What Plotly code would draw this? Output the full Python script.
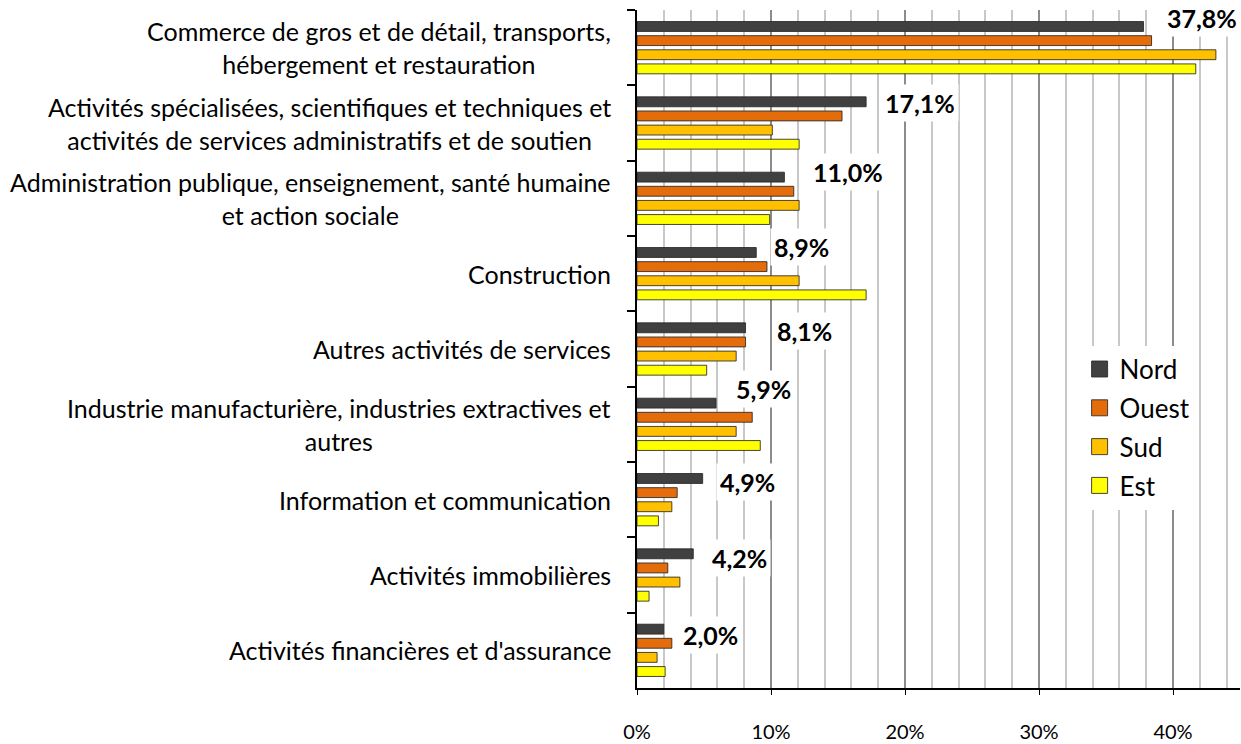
import plotly.graph_objects as go

categories = [
    "Commerce de gros et de détail, transports,<br>hébergement et restauration",
    "Activités spécialisées, scientifiques et techniques et<br>activités de services administratifs et de soutien",
    "Administration publique, enseignement, santé humaine<br>et action sociale",
    "Construction",
    "Autres activités de services",
    "Industrie manufacturière, industries extractives et<br>autres",
    "Information et communication",
    "Activités immobilières",
    "Activités financières et d'assurance",
]
nord = [37.8, 17.1, 11.0, 8.9, 8.1, 5.9, 4.9, 4.2, 2.0]
ouest = [38.4, 15.3, 11.7, 9.7, 8.1, 8.6, 3.0, 2.3, 2.6]
sud = [43.2, 10.1, 12.1, 12.1, 7.4, 7.4, 2.6, 3.2, 1.5]
est = [41.7, 12.1, 9.9, 17.1, 5.2, 9.2, 1.6, 0.9, 2.1]
x_ticks = [0, 10, 20, 30, 40]

series = [("Nord", nord, "#404040"), ("Ouest", ouest, "#E46C0A"),
          ("Sud", sud, "#FFC000"), ("Est", est, "#FFFF00")]

# label placement tweaks (pixels), style only
label_dx = [19, 15, 25, 14, 27, 16, 13, 15, 15]
label_dy = [30, 20, 26, 27, 18, 35, 18, 17, 15]

FONT = "Lato, 'Open Sans', sans-serif"
EDGE = "rgba(40,40,40,0.85)"

fig = go.Figure()
for name, vals, col in series:
    fig.add_trace(go.Bar(
        y=categories, x=vals, name=name, orientation="h",
        marker=dict(color=col, line=dict(color=EDGE, width=1)),
        hoverinfo="x+name", showlegend=False, legendgroup=name,
    ))
for name, vals, col in series:
    fig.add_trace(go.Scatter(
        x=[None], y=[None], mode="markers", name=name, legendgroup=name,
        marker=dict(symbol="square", size=16, color=col, line=dict(color=EDGE, width=1)),
        showlegend=True,
    ))

annotations = []
for i, cat in enumerate(categories):
    annotations.append(dict(
        x=0, xref="paper", y=cat, yref="y", xanchor="right", yanchor="middle",
        xshift=-24, text=cat, showarrow=False, align="center",
        font=dict(family=FONT, size=25, color="#000000"),
    ))
    annotations.append(dict(
        x=nord[i], xref="x", y=cat, yref="y", xanchor="left", yanchor="middle",
        xshift=label_dx[i], yshift=label_dy[i],
        text="<b>" + f"{nord[i]:.1f}".replace(".", ",") + "%</b>",
        showarrow=False, bgcolor="#FFFFFF", borderpad=3,
        font=dict(family=FONT, size=25, color="#000000"),
    ))

fig.update_layout(
    width=1241, height=744,
    margin=dict(l=637, r=1, t=10, b=48),
    paper_bgcolor="#FFFFFF", plot_bgcolor="#FFFFFF",
    barmode="group", bargap=0.25, bargroupgap=0.3,
    font=dict(family=FONT, color="#000000"),
    annotations=annotations,
    legend=dict(
        x=0.734, y=0.505, xanchor="left", yanchor="top",
        bgcolor="#FFFFFF", font=dict(family=FONT, size=26, color="#000000"),
        traceorder="grouped", entrywidth=110, tracegroupgap=2, itemwidth=30,
    ),
    showlegend=True,
)
fig.update_yaxes(
    type="category", autorange="reversed", showticklabels=False,
    ticks="outside", tickson="boundaries", ticklen=8, tickcolor="#000000", tickwidth=2,
    showline=True, linecolor="#000000", linewidth=2, showgrid=False,
)
fig.update_xaxes(
    range=[0, 45], tickvals=x_ticks, ticktext=[f"{v}%" for v in x_ticks],
    ticks="outside", ticklen=5, tickcolor="#000000", tickwidth=1,
    ticklabelstandoff=20,
    tickfont=dict(family=FONT, size=20, color="#000000"),
    showline=True, linecolor="#000000", linewidth=2,
    showgrid=True, gridcolor="#8C8C8C", gridwidth=1.5, zeroline=False,
    minor=dict(tickvals=list(range(2, 45, 2)), showgrid=True, gridcolor="#C8C8C8", gridwidth=1.5, ticks=""),
)

fig.write_html(
    "out.html",
    config={"displayModeBar": False},
    post_script="document.body.style.margin='0';document.body.style.overflow='hidden';",
)
